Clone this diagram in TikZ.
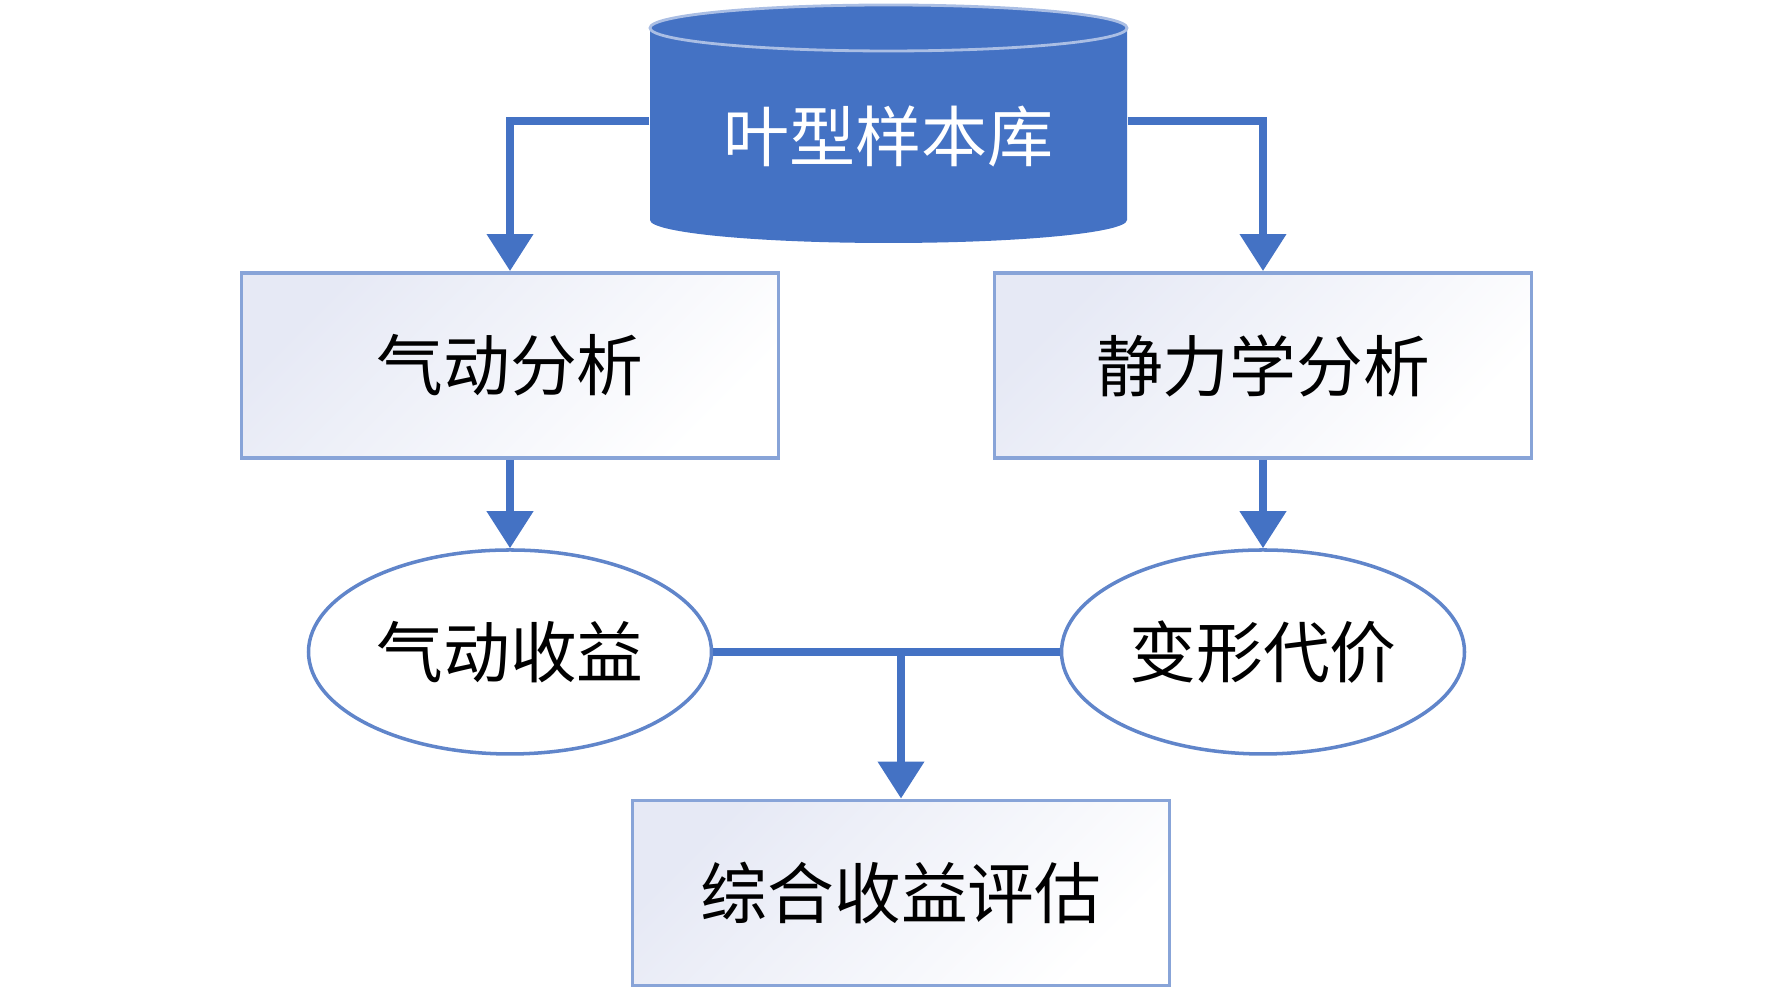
\documentclass[tikz,border=0pt]{standalone}
\usepackage{fontspec}
\newfontfamily\cjk{Noto Sans CJK SC}
\usepackage{tikz}
\usetikzlibrary{shapes.geometric, arrows.meta}
\definecolor{dbblue}{RGB}{68,114,196}
\definecolor{seamblue}{RGB}{170,190,228}
\definecolor{boxline}{RGB}{136,164,216}
\definecolor{boxshade}{RGB}{230,233,245}
\definecolor{ovalline}{RGB}{96,133,202}
\tikzstyle{arrow} = [line width=2.1pt, dbblue, -{Triangle[width=0.45cm,length=0.37cm]}]
\tikzstyle{link} = [line width=2.1pt, dbblue]
\tikzstyle{process} = [rectangle, minimum width=5.37cm, minimum height=1.85cm, draw=boxline, line width=1.1pt, top color=boxshade, bottom color=white, shading angle=45, font=\cjk\fontsize{19}{22}\selectfont]
\tikzstyle{result} = [ellipse, inner sep=0pt, minimum width=4.03cm, minimum height=2.04cm, draw=ovalline, line width=1pt, fill=white, font=\cjk\fontsize{19}{22}\selectfont]

\begin{document}
\begin{tikzpicture}
  \useasboundingbox (0,0) rectangle (17.72,9.88);
  % sample library drum
  \fill[dbblue] (6.50,9.60) -- (6.50,7.68) arc[start angle=180, end angle=360, x radius=2.385cm, y radius=0.23cm] -- (11.27,9.60) -- cycle;
  \draw[seamblue, line width=0.8pt, fill=dbblue] (8.885,9.60) ellipse[x radius=2.385cm, y radius=0.23cm];
  \node (lib) [rectangle, minimum width=4.77cm, minimum height=1.9cm, text=white, font=\cjk\fontsize{18.8}{22}\selectfont] at (8.885,8.52) {叶型样本库};

  \node (aero) [process] at (5.10,6.225) {气动分析};
  \node (stat) [process] at (12.63,6.225) {静力学分析};
  \node (gain) [result] at (5.10,3.36) {气动收益};
  \node (cost) [result] at (12.63,3.36) {变形代价};
  \node (eval) [process] at (9.01,0.95) {综合收益评估};

  \draw[arrow] ([yshift=0.15cm]lib.west) -| (aero.north);
  \draw[arrow] ([yshift=0.15cm]lib.east) -| (stat.north);
  \draw[arrow] (aero.south) -- (gain.north);
  \draw[arrow] (stat.south) -- (cost.north);
  \draw[link] (gain.east) -- (cost.west);
  \draw[arrow] (eval.north |- gain.east) -- (eval.north);
\end{tikzpicture}
\end{document}
